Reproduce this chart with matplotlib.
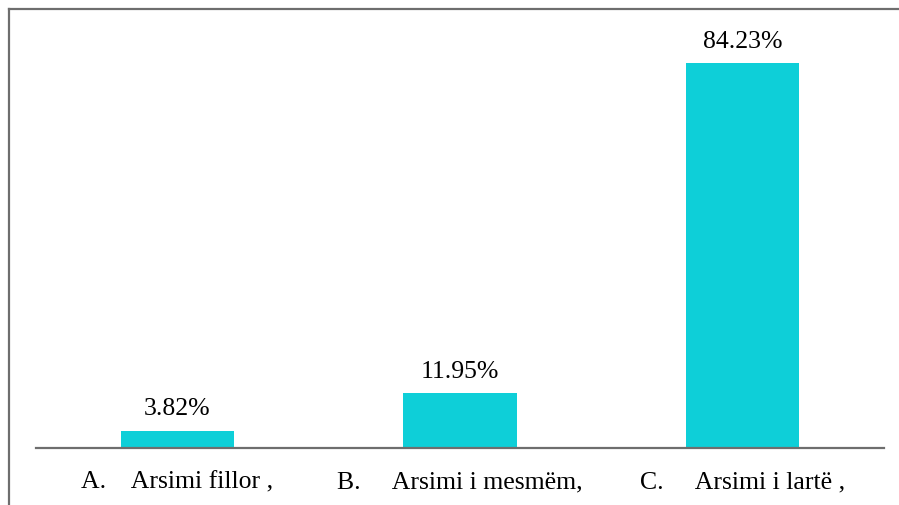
import matplotlib.pyplot as plt
from matplotlib.lines import Line2D

W, H = 899, 506

categories = ["A.    Arsimi fillor ,", "B.     Arsimi i mesmëm,", "C.     Arsimi i lartë ,"]
values = [3.82, 11.95, 84.23]
value_labels = ["3.82%", "11.95%", "84.23%"]

BAR_COLOR = "#0ecfd8"
LINE_COLOR = "#6e6e6e"

fig = plt.figure(figsize=(W / 100, H / 100), dpi=100)
ax = fig.add_axes([36 / W, (H - 449) / H, (884 - 36) / W, (449 - 10) / H])

x = list(range(len(categories)))
ax.bar(x, values, width=0.4, color=BAR_COLOR, zorder=2)
ax.set_xlim(-0.5, 2.5)
ax.set_ylim(0, 96)

for xi, v, lab in zip(x, values, value_labels):
    ax.annotate(lab, (xi, v), xytext=(0, 8), textcoords="offset points",
                ha="center", va="bottom", fontsize=18.5, family="Liberation Serif")

ax.set_xticks(x)
ax.set_xticklabels(categories, fontsize=18.5, family="Liberation Serif")
ax.tick_params(axis="x", length=0, pad=16)
ax.set_yticks([])
for s in ["top", "right", "left"]:
    ax.spines[s].set_visible(False)
ax.spines["bottom"].set_color(LINE_COLOR)
ax.spines["bottom"].set_linewidth(1.6)

# outer frame lines (top and left only)
fig.add_artist(Line2D([8.5 / W, 8.5 / W], [0, (H - 10) / H], transform=fig.transFigure,
                      color=LINE_COLOR, lw=1.6))
fig.add_artist(Line2D([8.5 / W, 1], [(H - 10) / H, (H - 10) / H], transform=fig.transFigure,
                      color=LINE_COLOR, lw=1.6))

fig.savefig("out.png", dpi=100)
